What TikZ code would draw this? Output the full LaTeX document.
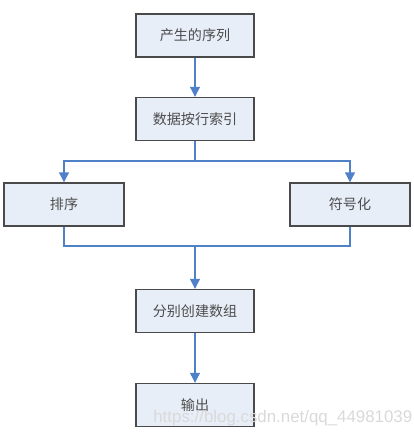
\documentclass[tikz,border=0pt]{standalone}
\usepackage{fontspec}
\newfontfamily\cjk{Noto Sans CJK SC}
\usetikzlibrary{arrows.meta}
\usetikzlibrary{positioning}
\definecolor{boxfill}{HTML}{E8EEF8}
\definecolor{boxline}{HTML}{4A4A4A}
\definecolor{flowline}{HTML}{4F81C9}

\begin{document}
\begin{tikzpicture}[>={Triangle[width=7pt,length=7pt]},thick,main node/.style={rectangle,fill=boxfill,draw=boxline,line width=1pt,minimum width=2.95cm,minimum height=1.075cm,align=center,font=\cjk\fontsize{10}{12}\selectfont,text=black!70},flow/.style={flowline,line width=0.8pt}]
		
		\useasboundingbox (0,0) rectangle (10.325,-10.95);
		
		\node[main node] at (4.875,-0.8875) (1) {产生的序列};
		\node[main node] at (4.875,-2.975) (2) {数据按行索引};
		\node[main node, minimum width=3cm] at (1.6,-5.1125) (3) {排序};
		\node[main node, minimum width=3cm] at (8.75,-5.1125) (4) {符号化};
		\node[main node] at (4.875,-7.775) (5) {分别创建数组};
		\node[main node] at (4.875,-10.125) (6) {输出};
		
		\coordinate (split) at (4.875,-4.025);
		\coordinate (merge) at (4.875,-6.15);
		
		\node[text=black!15, font=\fontspec{Liberation Sans}\fontsize{12}{12}\selectfont] at (7.07,-10.45) (7) {https://blog.csdn.net/qq\_44981039};
		
		\draw[flow,->] (1) -- (2);
		\draw[flow] (2) -- (split);
		\draw[flow,->] (split) -| (3);
		\draw[flow,->] (split) -| (4);
		\draw[flow] (3) |- (merge);
		\draw[flow] (4) |- (merge);
		\draw[flow,->] (merge) -- (5);
		\draw[flow,->] (5) -- (6);
		
		\end{tikzpicture}
\end{document}
